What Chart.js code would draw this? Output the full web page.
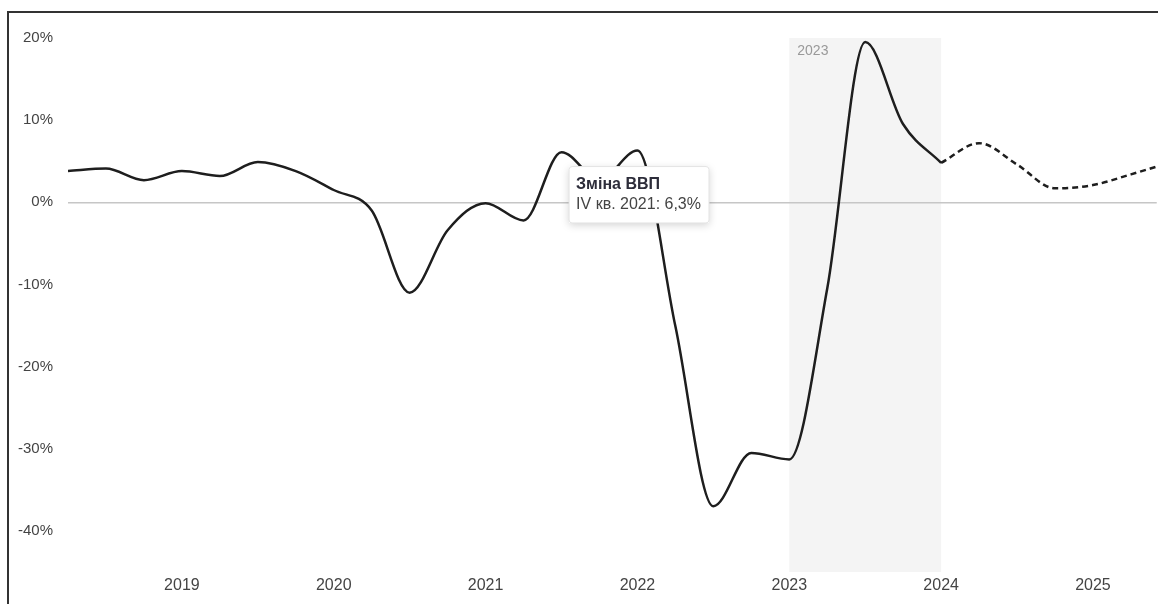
<!DOCTYPE html>
<html lang="uk">
<head>
<meta charset="utf-8">
<title>Зміна ВВП</title>
<script src="https://cdn.jsdelivr.net/npm/chart.js@4.4.1/dist/chart.umd.min.js"></script>
<style>
  html, body { margin: 0; padding: 0; background: #fff; overflow: hidden; }
  .frame {
    position: absolute; left: 7px; top: 11px;
    width: 1149px; height: 591px;
    border-left: 2px solid #333; border-top: 2px solid #333;
  }
  .frame canvas { display: block; }
</style>
</head>
<body>
<div class="frame"><canvas id="gdpChart"></canvas></div>
<script>
// quarters on the x axis (index = position on the linear scale)
const quarters = [
  'I кв. 2018', 'II кв. 2018', 'III кв. 2018', 'IV кв. 2018',
  'I кв. 2019', 'II кв. 2019', 'III кв. 2019', 'IV кв. 2019',
  'I кв. 2020', 'II кв. 2020', 'III кв. 2020', 'IV кв. 2020',
  'I кв. 2021', 'II кв. 2021', 'III кв. 2021', 'IV кв. 2021',
  'I кв. 2022', 'II кв. 2022', 'III кв. 2022', 'IV кв. 2022',
  'I кв. 2023', 'II кв. 2023', 'III кв. 2023', 'IV кв. 2023',
  'I кв. 2024', 'II кв. 2024', 'III кв. 2024', 'IV кв. 2024',
  'I кв. 2025', 'II кв. 2025'
];

// actual GDP change, % y/y (I кв. 2018 .. IV кв. 2023)
const actual = [
  3.8, 4.1, 2.7, 3.8,
  3.2, 4.9, 3.8, 1.5,
  -1.0, -11.0, -3.4, -0.1,
  -2.2, 6.1, 2.7, 6.3,
  -15.1, -37.0, -30.5, -31.3,
  -10.5, 19.5, 9.5, 4.8
];

// forecast, starting from the last actual quarter
const forecastFrom = 'IV кв. 2023';
const forecast = [4.8, 7.2, 4.6, 1.7, 2.1, 3.4, 4.8];

const yearLabels = ['2019', '2020', '2021', '2022', '2023', '2024', '2025'];
const yTicks = [-40, -30, -20, -10, 0, 10, 20];

const highlightLabel = '2023';
const tooltipQuarter = 'IV кв. 2021';

const fmt = v => v.toFixed(1).replace('.', ',') + '%';
const yearPos = y => quarters.indexOf('IV кв. ' + (Number(y) - 1));

const actualPoints = actual.map((v, i) => ({ x: i, y: v }));
const fStart = quarters.indexOf(forecastFrom);
const forecastPoints = forecast.map((v, i) => ({ x: fStart + i, y: v }));

Chart.defaults.font.family = "'Liberation Sans', Arial, sans-serif";
Chart.defaults.font.size = 15;
Chart.defaults.color = '#444';

Chart.Tooltip.positioners.belowLeft = function(items) {
  if (!items.length) return false;
  const el = items[0].element;
  return { x: el.x - 66, y: el.y + 16 };
};

// grey band for the highlighted year + soft shadow under the tooltip
const highlightPlugin = {
  id: 'highlight',
  beforeDraw(chart) {
    const { ctx, scales: { x, y } } = chart;
    const x0 = x.getPixelForValue(yearPos(highlightLabel));
    const x1 = x.getPixelForValue(yearPos(Number(highlightLabel) + 1));
    const top = y.getPixelForValue(y.max);
    const bottom = y.getPixelForValue(y.min);
    ctx.save();
    ctx.fillStyle = '#f4f4f4';
    ctx.fillRect(x0, top, x1 - x0, bottom - top);
    ctx.fillStyle = '#999';
    ctx.font = "14px 'Liberation Sans', Arial, sans-serif";
    ctx.textBaseline = 'middle';
    ctx.fillText(highlightLabel, x0 + 8, top + 13);
    ctx.restore();
  },
  beforeTooltipDraw(chart, args) {
    const t = args.tooltip;
    if (!t.opacity) return;
    const ctx = chart.ctx;
    ctx.save();
    ctx.shadowColor = 'rgba(0,0,0,0.18)';
    ctx.shadowBlur = 8;
    ctx.shadowOffsetY = 2;
    ctx.fillStyle = '#fff';
    ctx.fillRect(t.x, t.y, t.width, t.height);
    ctx.restore();
  }
};

const chart = new Chart(document.getElementById('gdpChart'), {
  type: 'line',
  data: {
    datasets: [
      {
        label: 'Зміна ВВП',
        data: actualPoints,
        borderColor: '#1e1e1e',
        borderWidth: 2.5,
        pointRadius: 0,
        pointHoverRadius: 0,
        cubicInterpolationMode: 'monotone',
        fill: false
      },
      {
        label: 'Прогноз',
        data: forecastPoints,
        borderColor: '#1e1e1e',
        borderWidth: 2.5,
        borderDash: [6, 4],
        pointRadius: 0,
        pointHoverRadius: 0,
        cubicInterpolationMode: 'monotone',
        fill: false
      }
    ]
  },
  options: {
    responsive: true,
    maintainAspectRatio: false,
    animation: false,
    events: [],
    layout: { padding: { top: 25, right: 0, bottom: 0, left: 0 } },
    scales: {
      x: {
        type: 'linear',
        min: 0,
        max: 28.68,
        grid: { display: false, drawTicks: false },
        border: { display: false },
        afterFit: s => { s.height = 32; },
        afterBuildTicks: s => { s.ticks = yearLabels.map(y => ({ value: yearPos(y) })); },
        ticks: {
          padding: 4,
          maxRotation: 0,
          autoSkip: false,
          font: { size: 16 },
          callback: v => yearLabels[yearLabels.findIndex(y => yearPos(y) === v)]
        }
      },
      y: {
        min: -45,
        max: 20,
        border: { display: false },
        grid: {
          drawTicks: false,
          lineWidth: 1.5,
          color: c => c.tick && c.tick.value === 0 ? '#c6c6c6' : 'rgba(0,0,0,0)'
        },
        afterFit: s => { s.width = 59; },
        afterBuildTicks: s => { s.ticks = yTicks.map(v => ({ value: v })); },
        ticks: {
          padding: 15,
          callback: v => v + '%'
        }
      }
    },
    plugins: {
      legend: { display: false },
      tooltip: {
        position: 'belowLeft',
        xAlign: 'left',
        yAlign: 'top',
        caretSize: 0,
        caretPadding: 0,
        cornerRadius: 3,
        backgroundColor: '#ffffff',
        borderColor: '#e4e4e4',
        borderWidth: 1,
        titleColor: '#2d2d3a',
        bodyColor: '#444',
        titleFont: { size: 16, weight: 'bold' },
        bodyFont: { size: 16 },
        titleMarginBottom: 1,
        padding: { top: 8, bottom: 9, left: 7, right: 8 },
        displayColors: false,
        callbacks: {
          title: items => items[0].dataset.label,
          label: c => quarters[c.parsed.x] + ': ' + fmt(c.parsed.y)
        }
      }
    }
  },
  plugins: [highlightPlugin]
});

chart.tooltip.setActiveElements(
  [{ datasetIndex: 0, index: quarters.indexOf(tooltipQuarter) }],
  { x: 0, y: 0 }
);
chart.update();
</script>
</body>
</html>
